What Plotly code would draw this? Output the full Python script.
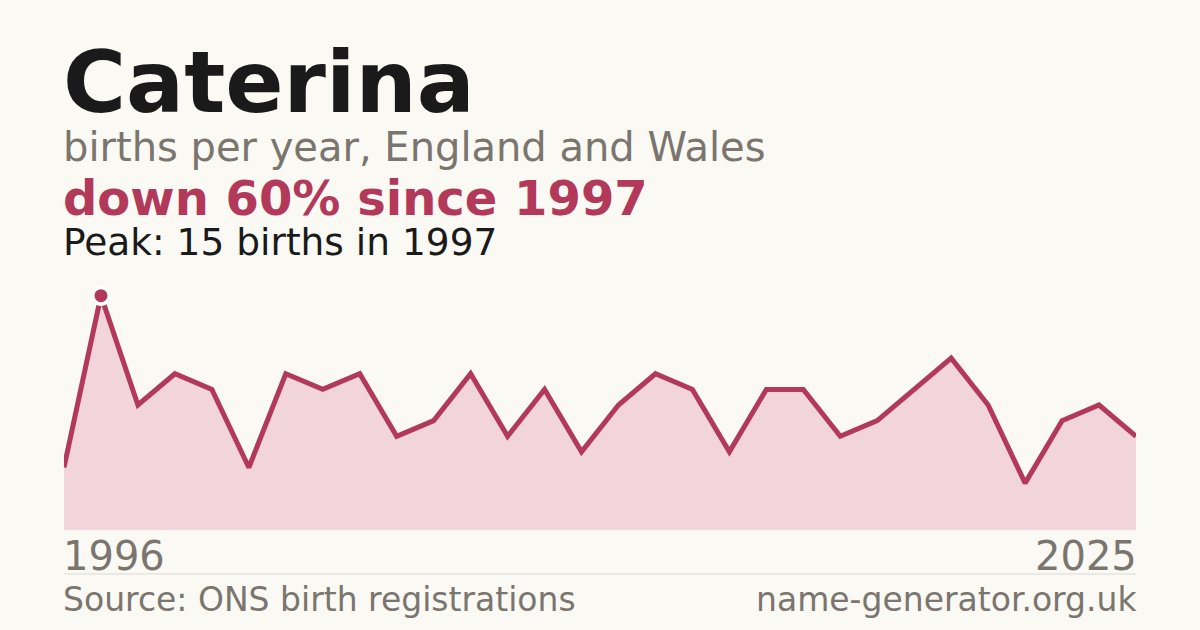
import plotly.graph_objects as go

# Datos
years = list(range(1996, 2026))
births = [4, 15, 8, 10, 9, 4, 10, 9, 10, 6,
          7, 10, 6, 9, 5, 8, 10, 9, 5, 9,
          9, 6, 7, 9, 11, 8, 3, 7, 8, 6]

name = "Caterina"
subtitle = "births per year, England and Wales"
source = "Source: ONS birth registrations"
site = "name-generator.org.uk"

peak = max(births)
peak_year = years[births.index(peak)]
change = round((births[-1] - peak) / peak * 100)

# Colores
bg = "#faf9f4"
red = "#b3395a"
grey = "#7a756e"
ink = "#1a1a1a"
font = "DejaVu Sans"

fig = go.Figure()
fig.add_trace(go.Scatter(
    x=years, y=births, mode="lines",
    line=dict(color=red, width=5),
    fill="tozeroy", fillcolor="#f2d5da",
    hoverinfo="skip"
))
fig.add_trace(go.Scatter(
    x=[peak_year], y=[peak], mode="markers",
    marker=dict(size=17, color=red, line=dict(color="white", width=4)),
    cliponaxis=False, hoverinfo="skip"
))

# Posiciones en píxeles -> coordenadas de papel (zona de trazado: y 280..530)
def py(p):
    return (530 - p) / 250

textos = [
    (name, 86, ink, True, 82, "left", 0),
    (subtitle, 40, grey, False, 147, "left", 0),
    (f"down {abs(change)}% since {peak_year}", 48, red, True, 198, "left", 0),
    (f"Peak: {peak} births in {peak_year}", 37.5, ink, False, 242, "left", 0),
    (str(years[0]), 40, grey, False, 556, "left", 0),
    (str(years[-1]), 40, grey, False, 556, "right", 1),
    (source, 33, grey, False, 599, "left", 0),
    (site, 33, grey, False, 599, "right", 1),
]
for txt, size, color, bold, ypix, anchor, xpos in textos:
    fig.add_annotation(
        text=f"<b>{txt}</b>" if bold else txt,
        xref="paper", yref="paper", x=xpos, y=py(ypix),
        xanchor=anchor, yanchor="middle", showarrow=False,
        borderpad=0, xshift=-2 if anchor == "left" else 2,
        font=dict(family=font, size=size, color=color),
    )

fig.add_shape(type="line", xref="paper", yref="paper",
              x0=0, x1=1, y0=py(574), y1=py(574),
              line=dict(color="#dcd9d2", width=1))

fig.update_layout(
    width=1200, height=630,
    margin=dict(l=64, r=64, t=280, b=100),
    paper_bgcolor=bg, plot_bgcolor=bg,
    showlegend=False,
    xaxis=dict(range=[years[0], years[-1]], visible=False, fixedrange=True),
    yaxis=dict(range=[0, 16], visible=False, fixedrange=True),
)

fig.write_html("out.html", config={"displayModeBar": False},
               post_script="document.body.style.margin='0';document.body.style.background='%s';" % bg)
